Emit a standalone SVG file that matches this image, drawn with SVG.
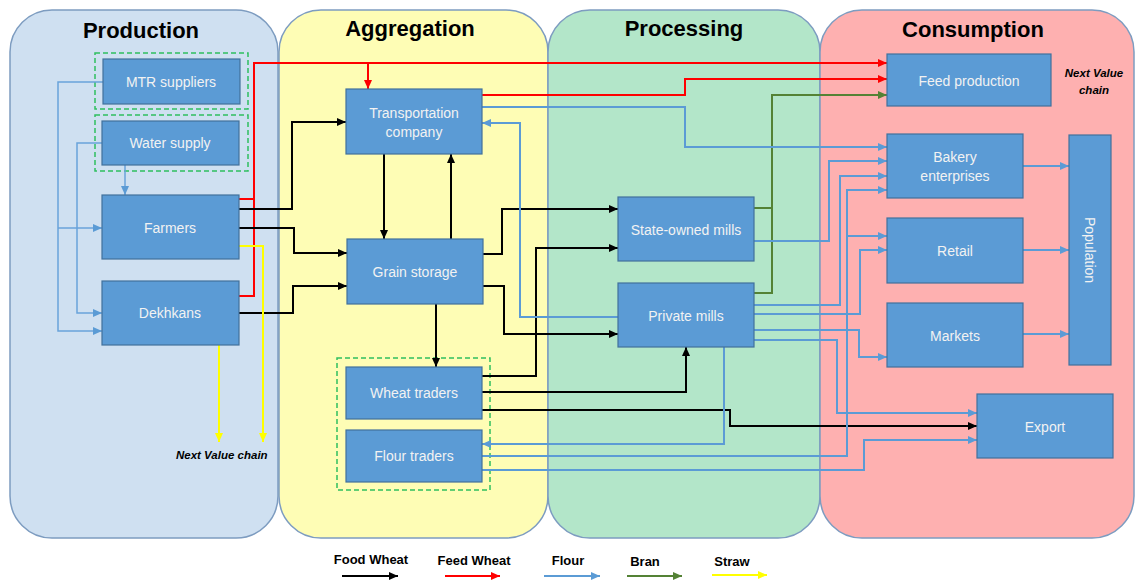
<svg xmlns="http://www.w3.org/2000/svg" width="1135" height="581" viewBox="0 0 1135 581">
<style>
.panel{stroke:#7d9cc0;stroke-width:1.5}
.title{font-family:"Liberation Sans",Arial,sans-serif;font-weight:bold;font-size:22px;fill:#000;text-anchor:middle}
.node rect{fill:#5b9bd5;stroke:#41719c;stroke-width:1.2}
.node text{font-family:"Liberation Sans",Arial,sans-serif;font-size:14px;fill:#f2f2f2;text-anchor:middle;dominant-baseline:central}
.dash{fill:none;stroke:#2fbf5f;stroke-width:1.5;stroke-dasharray:5 3}
.c{fill:none;stroke-width:2}
.k{stroke:#000;marker-end:url(#ak)}
.r{stroke:#ff0000;marker-end:url(#ar)}
.b{stroke:#5b9bd5;marker-end:url(#ab)}
.bt{stroke:#6aa3da;stroke-width:1.5;marker-end:url(#ab)}
.g{stroke:#548235;marker-end:url(#ag)}
.y{stroke:#ffff00;marker-end:url(#ay)}
.nm{marker-end:none}
.note{font-family:"Liberation Sans",Arial,sans-serif;font-weight:bold;font-style:italic;font-size:11.5px;fill:#000}
.leg{font-family:"Liberation Sans",Arial,sans-serif;font-weight:bold;font-size:13px;fill:#000;text-anchor:middle}
</style>
<defs>
<marker id="ak" markerUnits="userSpaceOnUse" markerWidth="9" markerHeight="8" refX="9" refY="4" orient="auto"><path d="M0,0 L9,4 L0,8 z" fill="#000"/></marker>
<marker id="ar" markerUnits="userSpaceOnUse" markerWidth="9" markerHeight="8" refX="9" refY="4" orient="auto"><path d="M0,0 L9,4 L0,8 z" fill="#ff0000"/></marker>
<marker id="ab" markerUnits="userSpaceOnUse" markerWidth="9" markerHeight="8" refX="9" refY="4" orient="auto"><path d="M0,0 L9,4 L0,8 z" fill="#5b9bd5"/></marker>
<marker id="ag" markerUnits="userSpaceOnUse" markerWidth="9" markerHeight="8" refX="9" refY="4" orient="auto"><path d="M0,0 L9,4 L0,8 z" fill="#548235"/></marker>
<marker id="ay" markerUnits="userSpaceOnUse" markerWidth="9" markerHeight="8" refX="9" refY="4" orient="auto"><path d="M0,0 L9,4 L0,8 z" fill="#ffff00"/></marker>
</defs>
<rect width="1135" height="581" fill="#fff"/>
<g id="panels">
<rect class="panel" x="10" y="10" width="268" height="528" rx="42" fill="#cfe0f1"/>
<rect class="panel" x="279" y="10" width="269" height="528" rx="42" fill="#fefdb5"/>
<rect class="panel" x="548" y="10" width="272" height="528" rx="42" fill="#b3e6c9"/>
<rect class="panel" x="820" y="10" width="314" height="528" rx="42" fill="#feb0b0"/>
<text class="title" x="141" y="38">Production</text>
<text class="title" x="410" y="36">Aggregation</text>
<text class="title" x="684" y="36">Processing</text>
<text class="title" x="973" y="37">Consumption</text>
</g>
<g id="groups">
<rect class="dash" x="95" y="53" width="153" height="56"/>
<rect class="dash" x="95" y="115" width="153" height="56"/>
<rect class="dash" x="337" y="358" width="153" height="132"/>
</g>
<g id="connectors">
<!-- production inputs (flour-coloured thin) -->
<path class="c bt" d="M103,82 H58 V331 H102"/>
<path class="c bt" d="M58,228 H102"/>
<path class="c bt" d="M102,143 H77 V313 H102"/>
<path class="c bt" d="M125,165 V195"/>
<!-- feed wheat -->
<path class="c r nm" d="M239,199 H254"/>
<path class="c r" d="M239,296 H254 V63 H887"/>
<path class="c r" d="M368,63 V89"/>
<path class="c r" d="M482,95 H685 V79 H887"/>
<!-- bran -->
<path class="c g" d="M754,208 H772 V95 H887"/>
<path class="c g nm" d="M754,293 H772 V208"/>
<!-- food wheat -->
<path class="c k" d="M239,209 H292 V122 H346"/>
<path class="c k" d="M239,228 H294 V253 H347"/>
<path class="c k" d="M239,313 H293 V286 H347"/>
<path class="c k" d="M384,154 V239"/>
<path class="c k" d="M451,239 V154"/>
<path class="c k" d="M436,304 V367"/>
<path class="c k" d="M483,254 H502 V209 H618"/>
<path class="c k" d="M483,286 H504 V334 H618"/>
<path class="c k" d="M482,376 H536 V248 H618"/>
<path class="c k" d="M482,392 H686 V347"/>
<path class="c k" d="M482,410 H730 V426 H977"/>
<!-- flour -->
<path class="c b" d="M482,107 H685 V147 H887"/>
<path class="c b" d="M618,317 H520 V123 H482"/>
<path class="c b" d="M754,241 H829 V161 H887"/>
<path class="c b" d="M754,305 H840 V176 H887"/>
<path class="c b" d="M482,456 H847 V190 H887"/>
<path class="c b" d="M847,236 H887"/>
<path class="c b" d="M754,314 H860 V250 H887"/>
<path class="c b" d="M754,330 H859 V357 H887"/>
<path class="c b" d="M754,340 H837 V413 H977"/>
<path class="c b" d="M724,347 V444 H482"/>
<path class="c b" d="M482,470 H864 V440 H977"/>
<path class="c b" d="M1023,166 H1069"/>
<path class="c b" d="M1023,250 H1069"/>
<path class="c b" d="M1023,334 H1069"/>
<!-- straw -->
<path class="c y" d="M239,246 H263 V442"/>
<path class="c y" d="M219,345 V442"/>
</g>
<g id="n-mtr" class="node"><rect x="103" y="59" width="137" height="45"/><text x="171" y="82">MTR suppliers</text></g>
<g id="n-water" class="node"><rect x="102" y="121" width="137" height="44"/><text x="170" y="143">Water supply</text></g>
<g id="n-farmers" class="node"><rect x="102" y="195" width="137" height="64"/><text x="170" y="228">Farmers</text></g>
<g id="n-dekhkans" class="node"><rect x="102" y="281" width="137" height="64"/><text x="170" y="313">Dekhkans</text></g>
<g id="n-transport" class="node"><rect x="346" y="89" width="136" height="65"/><text x="414" y="113">Transportation</text><text x="414" y="132">company</text></g>
<g id="n-grain" class="node"><rect x="347" y="239" width="136" height="65"/><text x="415" y="272">Grain storage</text></g>
<g id="n-wheattr" class="node"><rect x="346" y="367" width="136" height="52"/><text x="414" y="393">Wheat traders</text></g>
<g id="n-flourtr" class="node"><rect x="346" y="430" width="136" height="52"/><text x="414" y="456">Flour traders</text></g>
<g id="n-state" class="node"><rect x="618" y="197" width="136" height="64"/><text x="686" y="230">State-owned mills</text></g>
<g id="n-private" class="node"><rect x="618" y="283" width="136" height="64"/><text x="686" y="316">Private mills</text></g>
<g id="n-feed" class="node"><rect x="887" y="54" width="164" height="52"/><text x="969" y="81">Feed production</text></g>
<g id="n-bakery" class="node"><rect x="887" y="134" width="136" height="64"/><text x="955" y="157">Bakery</text><text x="955" y="176">enterprises</text></g>
<g id="n-retail" class="node"><rect x="887" y="218" width="136" height="65"/><text x="955" y="251">Retail</text></g>
<g id="n-markets" class="node"><rect x="887" y="303" width="136" height="64"/><text x="955" y="336">Markets</text></g>
<g id="n-population" class="node"><rect x="1069" y="135" width="42" height="230"/><text x="1090" y="250" transform="rotate(90 1090 250)">Population</text></g>
<g id="n-export" class="node"><rect x="977" y="394" width="136" height="64"/><text x="1045" y="427">Export</text></g>
<g id="notes">
<text class="note" x="176" y="459">Next Value chain</text>
<text class="note" x="1094" y="77" text-anchor="middle">Next Value</text>
<text class="note" x="1094" y="94" text-anchor="middle">chain</text>
</g>
<g id="legend">
<text class="leg" x="371" y="564">Food Wheat</text>
<text class="leg" x="474" y="565">Feed Wheat</text>
<text class="leg" x="568" y="565">Flour</text>
<text class="leg" x="645" y="566">Bran</text>
<text class="leg" x="732" y="566">Straw</text>
<path class="c k" d="M342,576 H398"/>
<path class="c r" d="M445,576 H500"/>
<path class="c b" d="M544,576 H600"/>
<path class="c g" d="M627,576 H682"/>
<path class="c y" d="M712,575 H767"/>
</g>
</svg>
